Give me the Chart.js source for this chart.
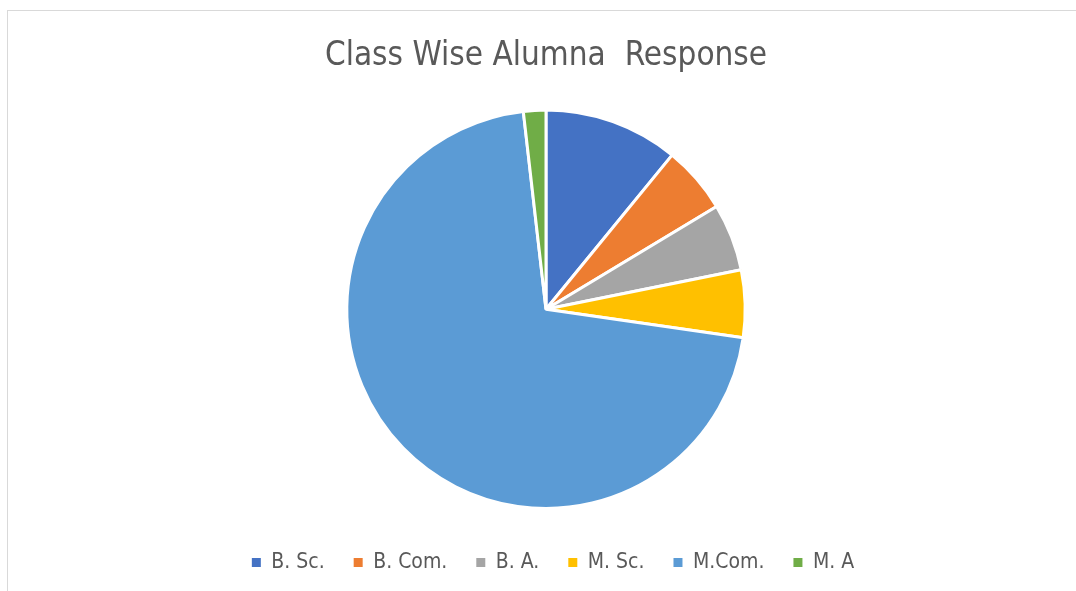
<!DOCTYPE html>
<html>
<head>
<meta charset="utf-8">
<script src="https://cdn.jsdelivr.net/npm/chart.js@4/dist/chart.umd.min.js"></script>
<style>
  html, body { margin: 0; padding: 0; background: #fff; }
  body { width: 1076px; height: 591px; overflow: hidden; position: relative; }
  #frame { position: absolute; left: 7px; top: 10px; width: 1200px; height: 700px;
           border-top: 1px solid #d9d9d9; border-left: 1px solid #d9d9d9; }
  #wrap { position: absolute; left: 0; top: 0; width: 1076px; height: 591px; }
</style>
</head>
<body>
<div id="frame"></div>
<div id="wrap"><canvas id="c" width="1076" height="591"></canvas></div>
<script>
const categories = ["B. Sc.", "B. Com.", "B. A.", "M. Sc.", "M.Com.", "M. A"];
const responses = [6, 3, 3, 3, 39, 1];
const sliceColors = ["#4472C4", "#ED7D31", "#A5A5A5", "#FFC000", "#5B9BD5", "#70AD47"];
const chartTitle = "Class Wise Alumna  Response";

const FONT = "'Liberation Sans Narrow', 'DejaVu Sans Condensed', 'Liberation Sans', sans-serif";

const legendShift = {
  id: 'legendShift',
  afterLayout(chart) {
    if (chart.legend) { chart.legend.left += 7; chart.legend.right += 7; }
  }
};

new Chart(document.getElementById('c'), {
  type: 'pie',
  data: {
    labels: categories,
    datasets: [{
      data: responses,
      backgroundColor: sliceColors,
      borderColor: '#ffffff',
      borderWidth: 3
    }]
  },
  options: {
    responsive: false,
    animation: false,
    layout: { padding: { top: 0, bottom: 8, left: 16, right: 0 } },
    plugins: {
      title: {
        display: true,
        text: chartTitle,
        color: '#595959',
        font: { family: FONT, size: 33, weight: 'normal', lineHeight: 1.2 },
        padding: { top: 37, bottom: 32 }
      },
      legend: {
        position: 'bottom',
        title: { display: true, text: '', font: { size: 1, lineHeight: 1 }, padding: { top: 12, bottom: 0 } },
        labels: {
          color: '#595959',
          font: { family: FONT, size: 21 },
          boxWidth: 9,
          boxHeight: 9,
          padding: 29,
          generateLabels(chart) {
            const items = Chart.overrides.pie.plugins.legend.labels.generateLabels(chart);
            items.forEach(it => { it.lineWidth = 0; it.strokeStyle = 'rgba(0,0,0,0)'; });
            return items;
          }
        }
      },
      tooltip: { enabled: false }
    }
  },
  plugins: [legendShift]
});
</script>
</body>
</html>
